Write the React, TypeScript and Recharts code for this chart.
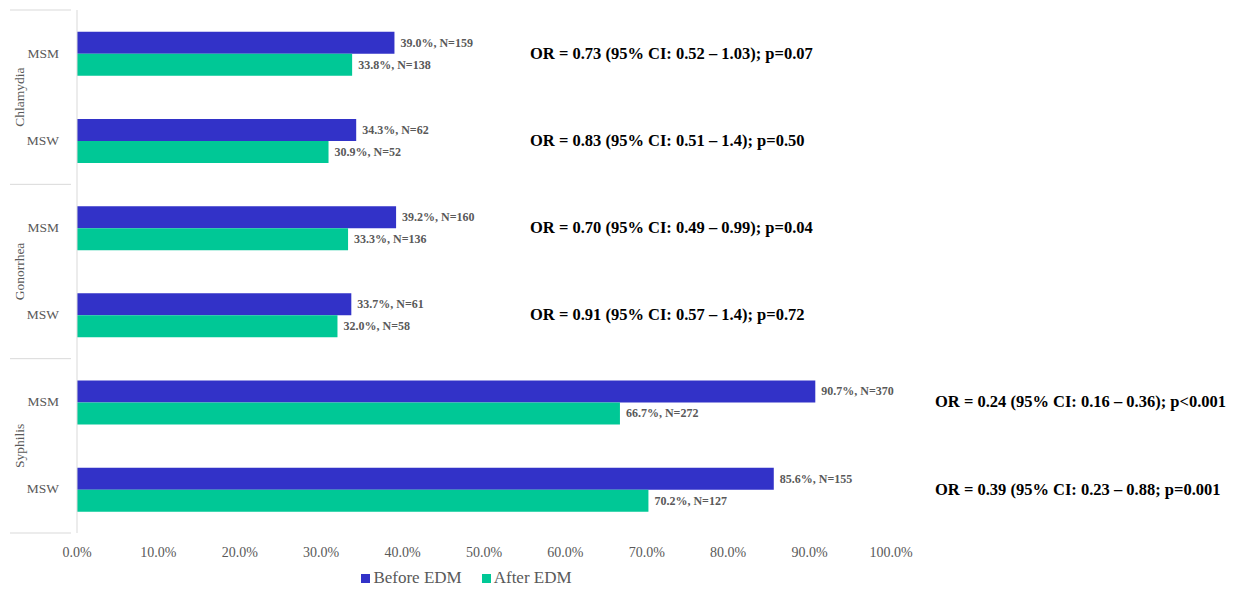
import { BarChart, Bar, XAxis, YAxis, Legend, LabelList } from 'recharts'

// Each row: one disease / partner-group pair
const diseases = ['Chlamydia', 'Chlamydia', 'Gonorrhea', 'Gonorrhea', 'Syphilis', 'Syphilis']
const groups = ['MSM', 'MSW', 'MSM', 'MSW', 'MSM', 'MSW']
const beforePct = [39.0, 34.3, 39.2, 33.7, 90.7, 85.6]
const beforeN = [159, 62, 160, 61, 370, 155]
const afterPct = [33.8, 30.9, 33.3, 32.0, 66.7, 70.2]
const afterN = [138, 52, 136, 58, 272, 127]
const oddsRatios = [
  'OR = 0.73 (95% CI: 0.52 – 1.03); p=0.07',
  'OR = 0.83 (95% CI: 0.51 – 1.4); p=0.50',
  'OR = 0.70 (95% CI: 0.49 – 0.99); p=0.04',
  'OR = 0.91 (95% CI: 0.57 – 1.4); p=0.72',
  'OR = 0.24 (95% CI: 0.16 – 0.36); p<0.001',
  'OR = 0.39 (95% CI: 0.23 – 0.88; p=0.001',
]
const xTicks = [0, 10, 20, 30, 40, 50, 60, 70, 80, 90, 100]

const BEFORE_COLOR = '#3232c8'
const AFTER_COLOR = '#00c896'
const SERIF = 'Liberation Serif, serif'
const GREY = '#595959'

const WIDTH = 1246
const HEIGHT = 591
const MARGIN = { top: 10, right: 355, bottom: 0, left: 0 }
const X_AXIS_HEIGHT = 30
const LEGEND_HEIGHT = 28
const Y_AXIS_WIDTH = 77
const PLOT_HEIGHT = HEIGHT - MARGIN.top - X_AXIS_HEIGHT - LEGEND_HEIGHT
const BAND = PLOT_HEIGHT / groups.length

const data = groups.map((g, i) => ({
  id: `${diseases[i]}-${g}`,
  group: g,
  disease: diseases[i],
  before: beforePct[i],
  after: afterPct[i],
}))

function CategoryTick(props: any) {
  const { x, y, index } = props
  const row = data[index]
  const firstOfPair = index % 2 === 0
  const isLast = index === data.length - 1
  return (
    <g>
      <text x={x - 10} y={y} dy={4} textAnchor="end" fontFamily={SERIF} fontSize={13.5} fill={GREY}>
        {row.group}
      </text>
      {firstOfPair && (
        <>
          <line x1={10} x2={x + 2} y1={y - BAND / 2} y2={y - BAND / 2} stroke="#d9d9d9" />
          <text
            x={20}
            y={y + BAND / 2}
            textAnchor="middle"
            fontFamily={SERIF}
            fontSize={13.5}
            fill={GREY}
            transform={`rotate(-90, 20, ${y + BAND / 2})`}
            dy={4}
          >
            {row.disease}
          </text>
        </>
      )}
      {isLast && <line x1={10} x2={x + 2} y1={y + BAND / 2} y2={y + BAND / 2} stroke="#d9d9d9" />}
    </g>
  )
}

function valueLabel(counts: number[]) {
  return (props: any) => {
    const { x, y, width, height, value, index } = props
    return (
      <text
        x={x + width + 6}
        y={y + height / 2}
        dy={4}
        fontFamily={SERIF}
        fontSize={12}
        fontWeight="bold"
        fill={GREY}
      >
        {`${Number(value).toFixed(1)}%, N=${counts[index]}`}
      </text>
    )
  }
}

// Odds ratio text sits to the right of each row, pushed further out for long bars
function OddsLabel(props: any) {
  const { y, index } = props
  const rowMax = Math.max(beforePct[index], afterPct[index])
  const tx = rowMax > 60 ? 935 : 530
  return (
    <text x={tx} y={y} dy={5} fontFamily={SERIF} fontSize={16.5} fontWeight="bold" fill="#000">
      {oddsRatios[index]}
    </text>
  )
}

function LegendContent() {
  const items = [
    { label: 'Before EDM', color: BEFORE_COLOR },
    { label: 'After EDM', color: AFTER_COLOR },
  ]
  return (
    <div
      style={{
        display: 'flex',
        justifyContent: 'center',
        gap: 20,
        fontFamily: SERIF,
        fontSize: 17,
        color: GREY,
        paddingLeft: 42,
        paddingTop: 5,
      }}
    >
      {items.map((it) => (
        <span key={it.label} style={{ display: 'flex', alignItems: 'center', gap: 3 }}>
          <span style={{ width: 9, height: 9, background: it.color, display: 'inline-block' }} />
          {it.label}
        </span>
      ))}
    </div>
  )
}

export default function App() {
  return (
    <div style={{ position: 'absolute', left: 0, top: 0, width: WIDTH, height: HEIGHT, background: '#fff' }}>
      <BarChart
        width={WIDTH}
        height={HEIGHT}
        data={data}
        layout="vertical"
        margin={MARGIN}
        barCategoryGap="25%"
        barGap={0}
      >
        <XAxis
          type="number"
          domain={[0, 100]}
          ticks={xTicks}
          tickFormatter={(v) => `${Number(v).toFixed(1)}%`}
          axisLine={false}
          tickLine={false}
          height={X_AXIS_HEIGHT}
          tick={{ fontFamily: SERIF, fontSize: 14, fill: GREY }}
          tickMargin={8}
        />
        <YAxis
          type="category"
          dataKey="id"
          width={Y_AXIS_WIDTH}
          axisLine={{ stroke: '#d9d9d9' }}
          tickLine={false}
          tick={<CategoryTick />}
          interval={0}
        />
        <Legend
          verticalAlign="bottom"
          height={LEGEND_HEIGHT}
          content={<LegendContent />}
          wrapperStyle={{ height: LEGEND_HEIGHT }}
        />
        <Bar dataKey="before" name="Before EDM" fill={BEFORE_COLOR} isAnimationActive={false}>
          <LabelList dataKey="before" content={valueLabel(beforeN)} />
        </Bar>
        <Bar dataKey="after" name="After EDM" fill={AFTER_COLOR} isAnimationActive={false}>
          <LabelList dataKey="after" content={valueLabel(afterN)} />
          <LabelList dataKey="after" content={<OddsLabel />} />
        </Bar>
      </BarChart>
    </div>
  )
}
